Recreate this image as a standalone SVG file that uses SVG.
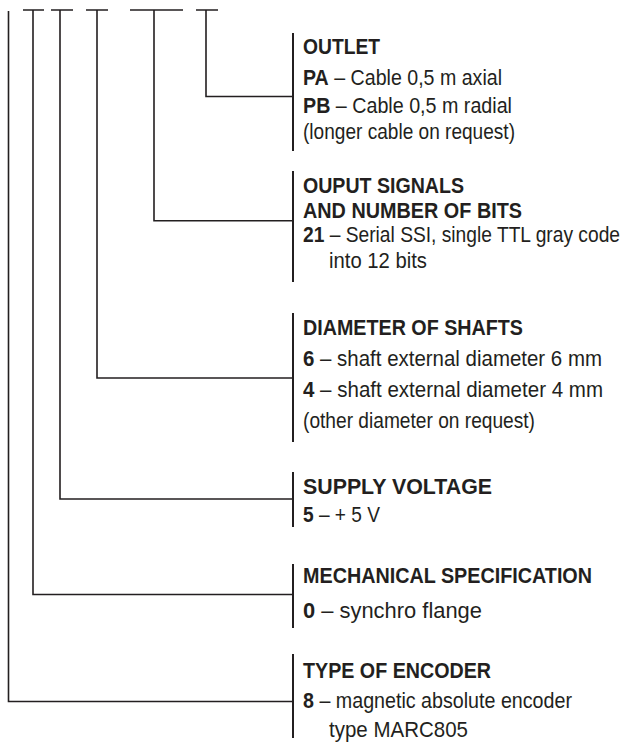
<svg xmlns="http://www.w3.org/2000/svg" width="630" height="742" viewBox="0 0 630 742">
<style>
.t{font-family:"Liberation Sans",Arial,sans-serif;font-size:21.5px;fill:#231f20}
.b{font-weight:bold}
.br{stroke:#231f20;stroke-width:2;fill:none}
.c{stroke:#231f20;stroke-width:1.6;fill:none}
</style>
<rect width="630" height="742" fill="#fff"/>
<g id="connectors">
<path class="c" d="M8.5 11V701.5H293"/>
<path class="c" d="M23 10H44M33 10V594.5H293"/>
<path class="c" d="M51 10H73M60 10V499H293"/>
<path class="c" d="M86 10H108M97 10V378H293"/>
<path class="c" d="M130 10H183M154 10V220.7H293"/>
<path class="c" d="M196 10H218M206 10V96.5H293"/>
</g>
<g id="outlet">
<line class="br" x1="293" y1="33" x2="293" y2="151"/>
<text class="t b" x="303" y="54" textLength="77" lengthAdjust="spacingAndGlyphs">OUTLET</text>
<text class="t" x="303" y="85" textLength="199" lengthAdjust="spacingAndGlyphs"><tspan class="b">PA</tspan> – Cable 0,5 m axial</text>
<text class="t" x="303" y="112.5" textLength="209" lengthAdjust="spacingAndGlyphs"><tspan class="b">PB</tspan> – Cable 0,5 m radial</text>
<text class="t" x="303" y="139" textLength="212" lengthAdjust="spacingAndGlyphs">(longer cable on request)</text>
</g>
<g id="output">
<line class="br" x1="293" y1="171" x2="293" y2="282"/>
<text class="t b" x="303" y="193" textLength="161" lengthAdjust="spacingAndGlyphs">OUPUT SIGNALS</text>
<text class="t b" x="303" y="217.5" textLength="219" lengthAdjust="spacingAndGlyphs">AND NUMBER OF BITS</text>
<text class="t" x="303" y="242" textLength="317" lengthAdjust="spacingAndGlyphs"><tspan class="b">21</tspan> – Serial SSI, single TTL gray code</text>
<text class="t" x="329" y="268" textLength="98" lengthAdjust="spacingAndGlyphs">into 12 bits</text>
</g>
<g id="diameter">
<line class="br" x1="293" y1="313" x2="293" y2="442"/>
<text class="t b" x="303" y="335" textLength="220" lengthAdjust="spacingAndGlyphs">DIAMETER OF SHAFTS</text>
<text class="t" x="303" y="366" textLength="299" lengthAdjust="spacingAndGlyphs"><tspan class="b">6</tspan> – shaft external diameter 6 mm</text>
<text class="t" x="303" y="397" textLength="300" lengthAdjust="spacingAndGlyphs"><tspan class="b">4</tspan> – shaft external diameter 4 mm</text>
<text class="t" x="303" y="428" textLength="232" lengthAdjust="spacingAndGlyphs">(other diameter on request)</text>
</g>
<g id="supply">
<line class="br" x1="293" y1="472" x2="293" y2="527"/>
<text class="t b" x="303" y="494" textLength="189" lengthAdjust="spacingAndGlyphs">SUPPLY VOLTAGE</text>
<text class="t" x="303" y="522" textLength="77" lengthAdjust="spacingAndGlyphs"><tspan class="b">5</tspan> – + 5 V</text>
</g>
<g id="mechanical">
<line class="br" x1="293" y1="564" x2="293" y2="628"/>
<text class="t b" x="303" y="583" textLength="289" lengthAdjust="spacingAndGlyphs">MECHANICAL SPECIFICATION</text>
<text class="t" x="303" y="618" textLength="179" lengthAdjust="spacingAndGlyphs"><tspan class="b">0</tspan> – synchro flange</text>
</g>
<g id="type">
<line class="br" x1="293" y1="654" x2="293" y2="738"/>
<text class="t b" x="303" y="678" textLength="188" lengthAdjust="spacingAndGlyphs">TYPE OF ENCODER</text>
<text class="t" x="303" y="708" textLength="269" lengthAdjust="spacingAndGlyphs"><tspan class="b">8</tspan> – magnetic absolute encoder</text>
<text class="t" x="329" y="737" textLength="139" lengthAdjust="spacingAndGlyphs">type MARC805</text>
</g>
</svg>
